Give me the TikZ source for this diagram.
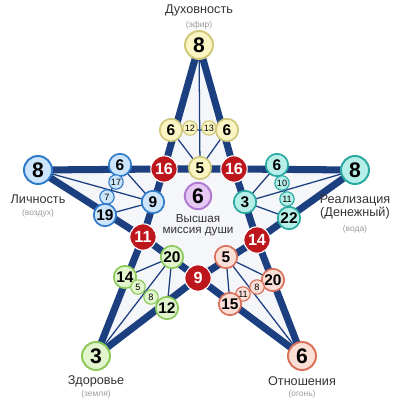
\documentclass[tikz,border=0pt]{standalone}
\usepackage{fontspec}
\setmainfont{Liberation Sans}
\usepackage{tikz}

\definecolor{starline}{HTML}{1B3F7F}
\definecolor{starfill}{HTML}{F4F6FA}
\definecolor{ylwfill}{HTML}{FAF5C2}
\definecolor{ylwline}{HTML}{CFC77A}
\definecolor{bluefill}{HTML}{CDE5FB}
\definecolor{blueline}{HTML}{2F7BC9}
\definecolor{cyanfill}{HTML}{B5EFE8}
\definecolor{cyanline}{HTML}{2AA9A0}
\definecolor{grnfill}{HTML}{E2F6CD}
\definecolor{grnline}{HTML}{8CC95C}
\definecolor{salfill}{HTML}{FBDFD6}
\definecolor{salline}{HTML}{D9705A}
\definecolor{redfill}{HTML}{BE161D}
\definecolor{purfill}{HTML}{E6C8F3}
\definecolor{purline}{HTML}{B07AD0}
\definecolor{subgray}{HTML}{9A9A9A}

\begin{document}
\begin{tikzpicture}[x=0.25mm, y=-0.25mm,
	tip/.style={draw, circle, line width=1.4pt, minimum size=7mm, inner sep=0pt, font=\fontsize{15}{15}\selectfont\bfseries},
	inner/.style={draw, circle, line width=1.2pt, minimum size=5.6mm, inner sep=0pt, font=\fontsize{11}{11}\selectfont\bfseries},
	tiny/.style={draw, circle, line width=0.8pt, minimum size=3.6mm, inner sep=0pt, font=\fontsize{6.5}{6.5}\selectfont},
	redn/.style={circle, fill=redfill, draw=white, line width=0.8pt, minimum size=6.6mm, inner sep=0pt, text=white, font=\fontsize{11.5}{11.5}\selectfont\bfseries},
	ylw/.style={fill=ylwfill, draw=ylwline},
	blu/.style={fill=bluefill, draw=blueline},
	cyn/.style={fill=cyanfill, draw=cyanline},
	grn/.style={fill=grnfill, draw=grnline},
	sal/.style={fill=salfill, draw=salline},
	thick line/.style={draw=starline, line width=5pt, line join=round},
	thin line/.style={draw=starline, line width=0.9pt},
	title/.style={font=\fontsize{9}{9}\selectfont, text=black!80},
	sub/.style={font=\fontsize{6}{6}\selectfont, text=subgray}]
	\useasboundingbox (0,0) rectangle (400,400);

	% star points
	\coordinate (T) at (199,45);
	\coordinate (L) at (38,170);
	\coordinate (R) at (355,170);
	\coordinate (BL) at (96,356);
	\coordinate (BR) at (302,356);
	% inner pentagon
	\coordinate (pL) at (164,169);
	\coordinate (pR) at (234,169);
	\coordinate (pBL) at (143,237);
	\coordinate (pBR) at (257,240);
	\coordinate (pB) at (198,278);

	\fill[starfill] (T) -- (pR) -- (R) -- (pBR) -- (BR) -- (pB) -- (BL) -- (pBL) -- (L) -- (pL) -- cycle;

	% thin lines
	\coordinate (yA) at (171,130);
	\coordinate (y12) at (190,128);
	\coordinate (y13) at (209,128);
	\coordinate (yB) at (227,130);
	\coordinate (yC) at (200,168);
	\coordinate (bA) at (120,165);
	\coordinate (b17) at (116,182);
	\coordinate (b7) at (107,197);
	\coordinate (bB) at (105,215);
	\coordinate (bC) at (153,202);
	\coordinate (cA) at (277,165);
	\coordinate (c10) at (282,183);
	\coordinate (c11) at (287,199);
	\coordinate (cB) at (289,218);
	\coordinate (cC) at (245,202);
	\coordinate (gA) at (125,277);
	\coordinate (g5) at (138,287);
	\coordinate (g8) at (151,297);
	\coordinate (gB) at (167,308);
	\coordinate (gC) at (172,257);
	\coordinate (sA) at (273,280);
	\coordinate (s8) at (257,287);
	\coordinate (s11) at (243,294);
	\coordinate (sB) at (230,304);
	\coordinate (sC) at (226,257);

	\draw[thin line] (T) -- (yC) (yA) -- (yC) -- (yB) (yA) -- (yB);
	\draw[thin line] (L) -- (bC) (bA) -- (bC) -- (bB) (bA) -- (b17) -- (b7) -- (bB);
	\draw[thin line] (R) -- (cC) (cA) -- (cC) -- (cB) (cA) -- (c10) -- (c11) -- (cB);
	\draw[thin line] (BL) -- (gC) (gA) -- (gC) -- (gB) (gA) -- (g5) -- (g8) -- (gB);
	\draw[thin line] (BR) -- (sC) (sA) -- (sC) -- (sB) (sA) -- (s8) -- (s11) -- (sB);

	% thick star
	\draw[thick line] (T) -- (pR) -- (R) -- (pBR) -- (BR) -- (pB) -- (BL) -- (pBL) -- (L) -- (pL) -- cycle;
	\draw[thick line] (pL) -- (pR) -- (pBR) -- (pB) -- (pBL) -- cycle;

	% tip nodes
	\node[tip, ylw] (nT) at (T) {8};
	\node[tip, blu] (nL) at (L) {8};
	\node[tip, cyn] (nR) at (R) {8};
	\node[tip, grn] (nBL) at (BL) {3};
	\node[tip, sal] (nBR) at (BR) {6};

	% red nodes
	\node[redn] (npL) at (pL) {16};
	\node[redn] (npR) at (pR) {16};
	\node[redn] (npBL) at (pBL) {11};
	\node[redn] (npBR) at (pBR) {14};
	\node[redn] (npB) at (pB) {9};

	% top
	\node[inner, ylw] (nyA) at (yA) {6};
	\node[tiny, ylw] (ny12) at (y12) {12};
	\node[tiny, ylw] (ny13) at (y13) {13};
	\node[inner, ylw] (nyB) at (yB) {6};
	\node[inner, ylw] (nyC) at (yC) {5};
	% left
	\node[inner, blu] (nbA) at (bA) {6};
	\node[tiny, blu] (nb17) at (b17) {17};
	\node[tiny, blu] (nb7) at (b7) {7};
	\node[inner, blu] (nbB) at (bB) {19};
	\node[inner, blu] (nbC) at (bC) {9};
	% right
	\node[inner, cyn] (ncA) at (cA) {6};
	\node[tiny, cyn] (nc10) at (c10) {10};
	\node[tiny, cyn] (nc11) at (c11) {11};
	\node[inner, cyn] (ncB) at (cB) {22};
	\node[inner, cyn] (ncC) at (cC) {3};
	% bottom left
	\node[inner, grn] (ngA) at (gA) {14};
	\node[tiny, grn] (ng5) at (g5) {5};
	\node[tiny, grn] (ng8) at (g8) {8};
	\node[inner, grn] (ngB) at (gB) {12};
	\node[inner, grn] (ngC) at (gC) {20};
	% bottom right
	\node[inner, sal] (nsA) at (sA) {20};
	\node[tiny, sal] (ns8) at (s8) {8};
	\node[tiny, sal] (ns11) at (s11) {11};
	\node[inner, sal] (nsB) at (sB) {15};
	\node[inner, sal] (nsC) at (sC) {5};

	% centre
	\node[tip, fill=purfill, draw=purline, minimum size=6.6mm] (mid) at (198,196) {6};
	\node[title, font=\fontsize{8.3}{8.3}\selectfont] (mid1) at (198,219) {Высшая};
	\node[title, font=\fontsize{8.3}{8.3}\selectfont] (mid2) at (198,232) {миссия души};

	% labels
	\node[title] (tT) at (199,10) {Духовность};
	\node[sub] (sT) at (199,25) {(эфир)};
	\node[title] (tL) at (38,199) {Личность};
	\node[sub] (sL) at (38,213) {(воздух)};
	\node[title] (tR1) at (355,200) {Реализация};
	\node[title] (tR2) at (355,213) {(Денежный)};
	\node[sub] (sR) at (355,229) {(вода)};
	\node[title] (tBL) at (96,381) {Здоровье};
	\node[sub] (sBL) at (96,394) {(земля)};
	\node[title] (tBR) at (302,381) {Отношения};
	\node[sub] (sBR) at (302,394) {(огонь)};
\end{tikzpicture}
\end{document}
